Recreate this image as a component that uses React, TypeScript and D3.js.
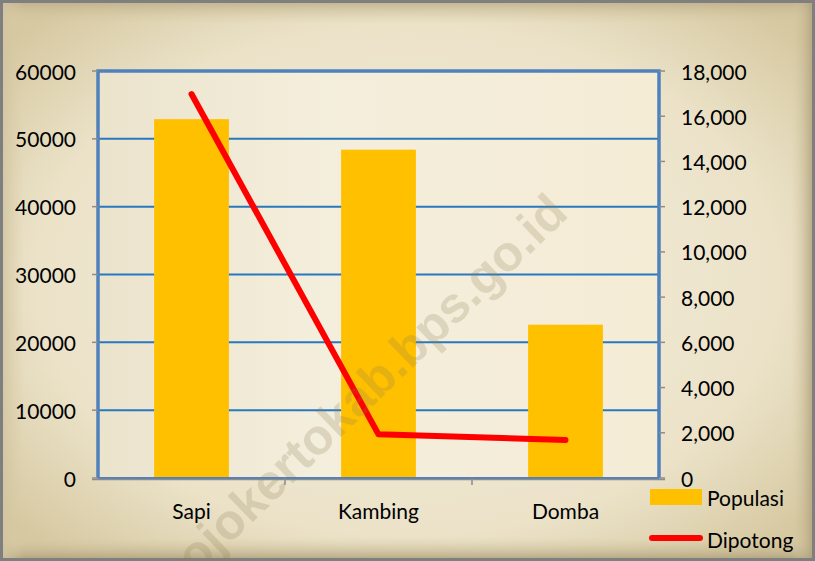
import React from "react";
import * as d3 from "d3";

const categories = ["Sapi", "Kambing", "Domba"];
const populasi = [52900, 48400, 22600];
const dipotong = [16980, 1930, 1680];
const leftTicks = [0, 10000, 20000, 30000, 40000, 50000, 60000];
const rightTicks = [0, 2000, 4000, 6000, 8000, 10000, 12000, 14000, 16000, 18000];
const seriesNames = ["Populasi", "Dipotong"];
const watermark = "mojokertokab.bps.go.id";

const W = 815;
const H = 561;
const M = { left: 98, right: 659, top: 71, bottom: 478 };
const FONT = "Lato, 'Open Sans', sans-serif";
const FS = 21;

export default function App() {
  const x = d3.scaleBand<string>().domain(categories).range([M.left, M.right]).paddingInner(0.6).paddingOuter(0.3);
  const xb = d3.scaleBand<string>().domain(categories).range([M.left, M.right]);
  const yL = d3.scaleLinear().domain([0, 60000]).range([M.bottom, M.top]);
  const yR = d3.scaleLinear().domain([0, 18000]).range([M.bottom, M.top]);
  const fmtR = d3.format(",");
  const line = d3
    .line<number>()
    .x((_, i) => (xb(categories[i]) as number) + xb.bandwidth() / 2)
    .y((d) => yR(d));

  return (
    <svg width={W} height={H} style={{ position: "absolute", left: 0, top: 0 }} fontFamily={FONT}>
      <defs>
        <radialGradient id="bg" cx="50%" cy="50%" r="65%">
          <stop offset="0%" stopColor="#f5efdf" />
          <stop offset="70%" stopColor="#ebe2c8" />
          <stop offset="100%" stopColor="#d6c8a0" />
        </radialGradient>
        <linearGradient id="topEdge" x1="0" y1="0" x2="0" y2="1">
          <stop offset="0%" stopColor="#b8aa84" stopOpacity="0.9" />
          <stop offset="100%" stopColor="#d8cca8" stopOpacity="0" />
        </linearGradient>
        <linearGradient id="botEdge" x1="0" y1="1" x2="0" y2="0">
          <stop offset="0%" stopColor="#a89a74" stopOpacity="0.9" />
          <stop offset="100%" stopColor="#d8cca8" stopOpacity="0" />
        </linearGradient>
        <linearGradient id="leftEdge" x1="0" y1="0" x2="1" y2="0">
          <stop offset="0%" stopColor="#cfc39f" stopOpacity="0.9" />
          <stop offset="100%" stopColor="#d8cca8" stopOpacity="0" />
        </linearGradient>
        <linearGradient id="rightEdge" x1="1" y1="0" x2="0" y2="0">
          <stop offset="0%" stopColor="#a89a74" stopOpacity="0.9" />
          <stop offset="100%" stopColor="#d8cca8" stopOpacity="0" />
        </linearGradient>
        <linearGradient id="plotBg" x1="0" y1="0" x2="1" y2="0">
          <stop offset="0%" stopColor="#ebe3cc" />
          <stop offset="40%" stopColor="#f4eedc" />
          <stop offset="100%" stopColor="#f5ecd6" />
        </linearGradient>
      </defs>

      <rect x={0} y={0} width={W} height={H} fill="url(#bg)" />
      <rect x={0} y={0} width={W} height={24} fill="url(#topEdge)" />
      <rect x={0} y={H - 24} width={W} height={24} fill="url(#botEdge)" />
      <rect x={0} y={0} width={24} height={H} fill="url(#leftEdge)" />
      <rect x={W - 24} y={0} width={24} height={H} fill="url(#rightEdge)" />
      <rect x={1.5} y={1.5} width={W - 3} height={H - 3} fill="none" stroke="#7f7f7f" strokeWidth={3} />

      <rect x={M.left} y={M.top} width={M.right - M.left} height={M.bottom - M.top} fill="url(#plotBg)" />

      {leftTicks.slice(1, -1).map((t) => (
        <line key={t} x1={M.left} x2={M.right} y1={yL(t)} y2={yL(t)} stroke="#2878c0" strokeWidth={2} />
      ))}

      {categories.map((c, i) => (
        <rect
          key={c}
          x={x(c)}
          y={yL(populasi[i])}
          width={x.bandwidth()}
          height={M.bottom - yL(populasi[i])}
          fill="#ffc000"
        />
      ))}

      <path d={line(dipotong) || ""} fill="none" stroke="#ff0000" strokeWidth={6} strokeLinecap="round" strokeLinejoin="round" />

      <text
        transform={`translate(358,402) rotate(-44)`}
        textAnchor="middle"
        dominantBaseline="middle"
        fontFamily="'Liberation Sans', Arial, sans-serif"
        fontWeight="bold"
        fontSize={50}
        fill="#8a7a50"
        fillOpacity={0.22}
      >
        {watermark}
      </text>

      {/* plot border */}
      <path
        d={`M${M.left},${M.bottom} V${M.top} H${M.right} V${M.bottom}`}
        fill="none"
        stroke="#4f81bd"
        strokeWidth={3.5}
      />
      <line x1={M.left} x2={M.right} y1={M.bottom} y2={M.bottom} stroke="#4f81bd" strokeWidth={2} />
      <line x1={M.left - 6} x2={M.right + 6} y1={M.bottom + 1.5} y2={M.bottom + 1.5} stroke="#8c8c8c" strokeWidth={1.5} />

      {/* left axis */}
      {leftTicks.map((t) => (
        <g key={t}>
          <line x1={M.left - 6} x2={M.left} y1={yL(t)} y2={yL(t)} stroke="#8c8c8c" strokeWidth={1.5} />
          <text x={76} y={yL(t)} textAnchor="end" dominantBaseline="central" fontSize={FS} fill="#000">
            {t}
          </text>
        </g>
      ))}

      {/* right axis */}
      {rightTicks.map((t) => (
        <g key={t}>
          <line x1={M.right} x2={M.right + 6} y1={yR(t)} y2={yR(t)} stroke="#8c8c8c" strokeWidth={1.5} />
          <text x={681} y={yR(t)} textAnchor="start" dominantBaseline="central" fontSize={FS} fill="#000">
            {fmtR(t)}
          </text>
        </g>
      ))}

      {/* x axis */}
      {categories.slice(1).map((c) => (
        <line key={c} x1={xb(c)} x2={xb(c)} y1={M.bottom} y2={M.bottom + 7} stroke="#8c8c8c" strokeWidth={1.5} />
      ))}
      {categories.map((c) => (
        <text
          key={c}
          x={(xb(c) as number) + xb.bandwidth() / 2}
          y={510}
          textAnchor="middle"
          dominantBaseline="central"
          fontSize={FS}
          fill="#000"
        >
          {c}
        </text>
      ))}

      {/* legend */}
      <rect x={650} y={489} width={52} height={16} fill="#ffc000" />
      <text x={707} y={497} dominantBaseline="central" fontSize={FS} fill="#000">
        {seriesNames[0]}
      </text>
      <line x1={652} x2={700} y1={538} y2={538} stroke="#ff0000" strokeWidth={6} strokeLinecap="round" />
      <text x={707} y={539} dominantBaseline="central" fontSize={FS} fill="#000">
        {seriesNames[1]}
      </text>
    </svg>
  );
}
